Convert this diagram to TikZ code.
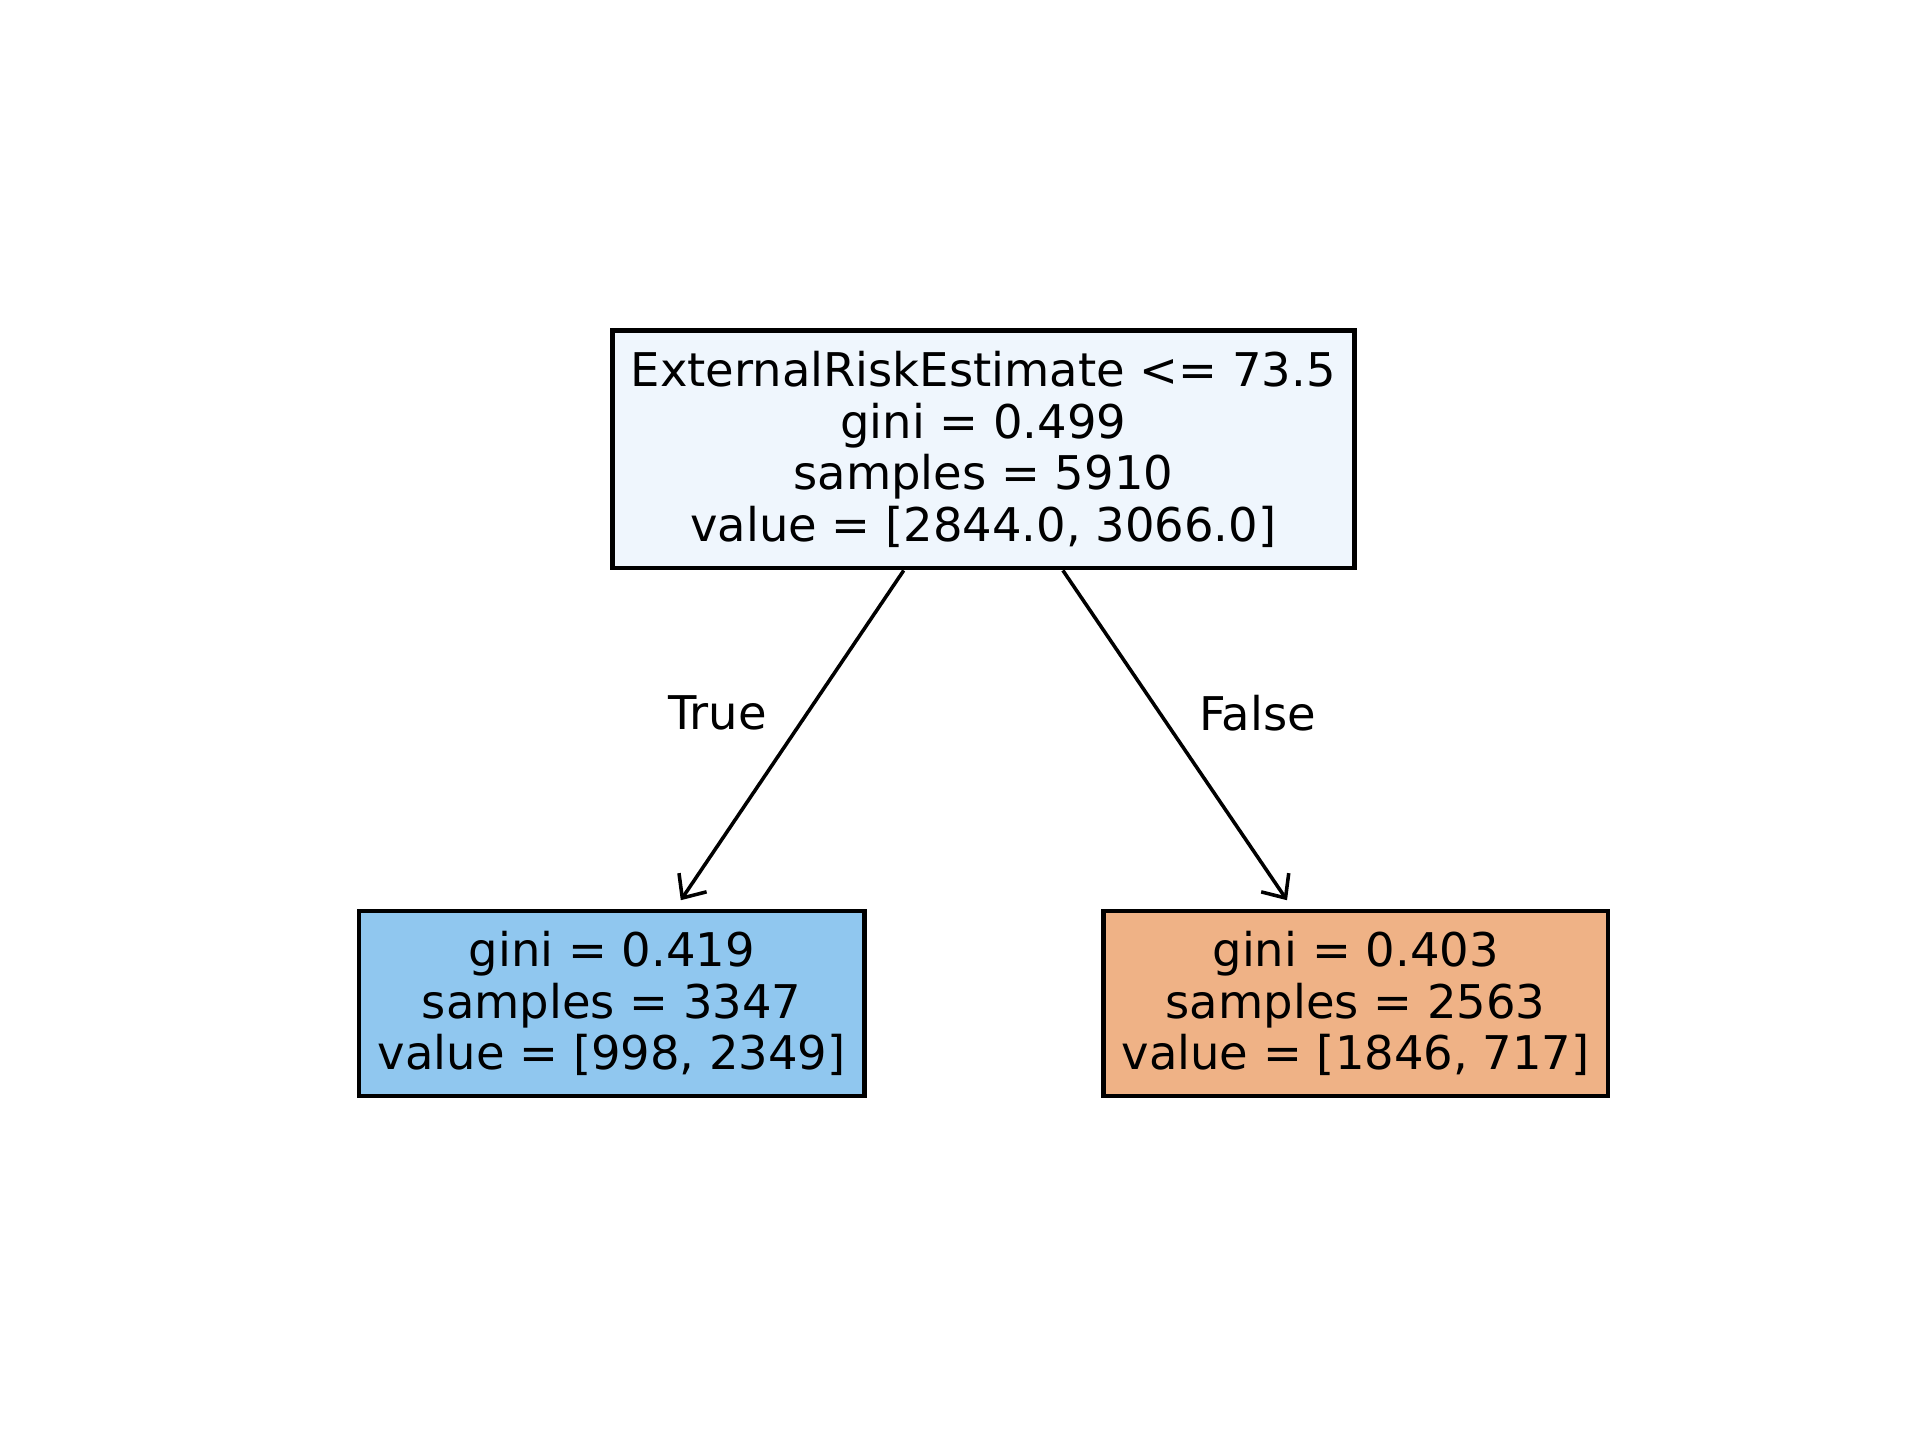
\documentclass[tikz,border=0pt]{standalone}
\usepackage{fontspec}
\setmainfont{DejaVu Sans}
\usetikzlibrary{arrows.meta,calc}
\definecolor{rootfill}{RGB}{239,246,253}
\definecolor{leftfill}{RGB}{144,199,239}
\definecolor{rightfill}{RGB}{239,178,134}
\begin{document}
\begin{tikzpicture}[x=0.24pt,y=-0.24pt,
  treebox/.style={draw=black,line width=1.1pt,rectangle,align=center,inner sep=0pt,
    font=\fontsize{11.15}{12.4}\selectfont},
  edgelabel/.style={font=\fontsize{11.15}{12.4}\selectfont,inner sep=0pt},
  arr/.style={line width=0.85pt,-{Straight Barb[length=4.5pt,width=8pt,line width=0.85pt]}}]
\useasboundingbox (0,0) rectangle (1920,1440);
\node[treebox,fill=rootfill,minimum width=178.1pt,minimum height=57pt] (root) at (983.3,449.4)
  {ExternalRiskEstimate <= 73.5\\gini = 0.499\\samples = 5910\\value = [2844.0, 3066.0]};
\node[treebox,fill=leftfill,minimum width=121.4pt,minimum height=44.4pt] (left) at (611.7,1003.5)
  {gini = 0.419\\samples = 3347\\value = [998, 2349]};
\node[treebox,fill=rightfill,minimum width=121.1pt,minimum height=44.4pt] (right) at (1355.6,1003.5)
  {gini = 0.403\\samples = 2563\\value = [1846, 717]};
\draw[arr] ($(root.south)+(-79.6,0)$) -- ($(left.north)+(69.1,-8.5)$);
\draw[arr] ($(root.south)+(79.6,0)$) -- ($(right.north)+(-68.6,-8.5)$);
\node[edgelabel] (truelbl) at (717.6,712.7) {True};
\node[edgelabel] (falselbl) at (1257.6,712.7) {False};
\end{tikzpicture}
\end{document}
